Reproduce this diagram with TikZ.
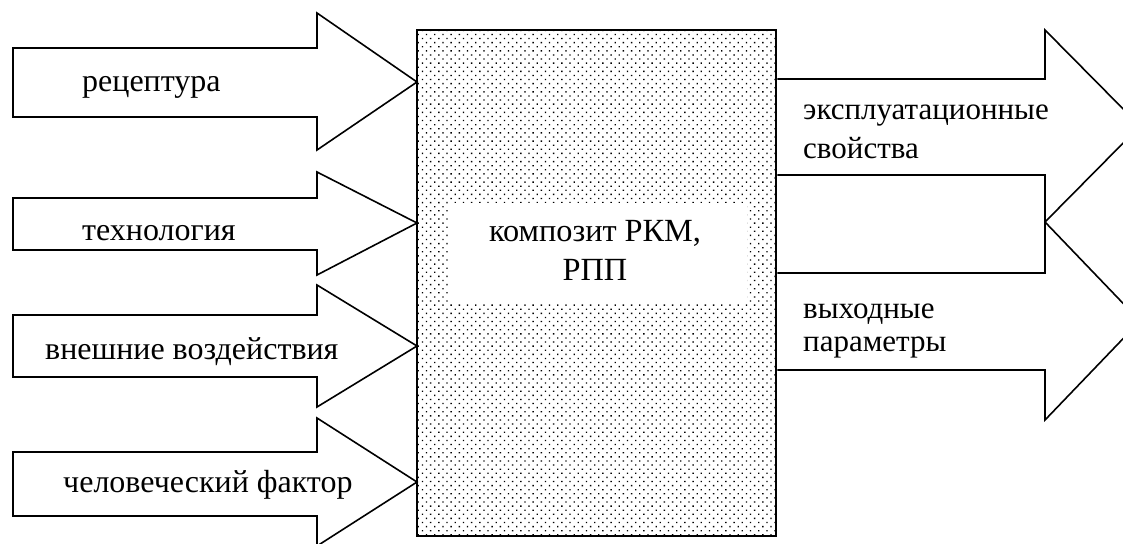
\documentclass[tikz,border=0pt]{standalone}
\usepackage{fontspec}
\setmainfont{Liberation Serif}
\newfontfamily\tnr{Liberation Serif}
\usetikzlibrary{patterns.meta}
\begin{document}
\begin{tikzpicture}[x=1pt,y=-1pt,
  arr/.style={draw=black,fill=white,line width=1.6pt,line join=miter},
  lbl/.style={inner sep=0pt,anchor=base west,font=\tnr\fontsize{32}{38}\selectfont},
  rlbl/.style={inner sep=0pt,anchor=base west,font=\tnr\fontsize{31}{37}\selectfont},
  clbl/.style={inner sep=0pt,anchor=base,font=\tnr\fontsize{32.3}{38}\selectfont}]
\useasboundingbox (0,0) rectangle (1123,543);
\clip (0,0) rectangle (1123,543);
% central box
\fill[white] (417,30) rectangle (776,536);
\fill[pattern={Dots[distance=5.8pt,angle=45,radius=0.95pt]}] (417,30) rectangle (776,536);
\node[draw=black,line width=2.8pt,minimum width=359pt,minimum height=506pt,inner sep=0pt] (box) at (596.5,283) {};
\node[fill=white,minimum width=297pt,minimum height=100pt,inner sep=0pt] (core) at (598.5,253) {};
\node[clbl] (c1) at (595,241) {композит РКМ,};
\node[clbl] (c2) at (595,280) {РПП};
% input arrows
\coordinate (t1) at (417,82);
\coordinate (t2) at (417,223);
\coordinate (t3) at (417,346);
\coordinate (t4) at (417,482);
\draw[arr] (13,48) -- (317,48) -- (317,13) -- (t1) -- (317,150) -- (317,117) -- (13,117) -- cycle;
\draw[arr] (13,198) -- (317,198) -- (317,172) -- (t2) -- (317,275) -- (317,250) -- (13,250) -- cycle;
\draw[arr] (13,315) -- (317,315) -- (317,285) -- (t3) -- (317,407) -- (317,377) -- (13,377) -- cycle;
\draw[arr] (13,452) -- (317,452) -- (317,418) -- (t4) -- (317,546) -- (317,516) -- (13,516) -- cycle;
\node[lbl] (l1) at (82,91) {рецептура};
\node[lbl] (l2) at (82,240) {технология};
\node[lbl] (l3) at (45,359) {внешние воздействия};
\node[lbl] (l4) at (63,492) {человеческий фактор};
% output arrows
\draw[arr] (box.east |- 0,79) -- (1045,79) -- (1045,30) -- (1140,126) -- (1045,222) -- (1045,175) -- (box.east |- 0,175);
\draw[arr] (box.east |- 0,273) -- (1045,273) -- (1045,222) -- (1140,321) -- (1045,420) -- (1045,370) -- (box.east |- 0,370);
\node[rlbl] (o1) at (803,119) {эксплуатационные};
\node[rlbl] (o2) at (803,158) {свойства};
\node[rlbl] (o3) at (803,318) {выходные};
\node[rlbl] (o4) at (803,351) {параметры};
\end{tikzpicture}
\end{document}
